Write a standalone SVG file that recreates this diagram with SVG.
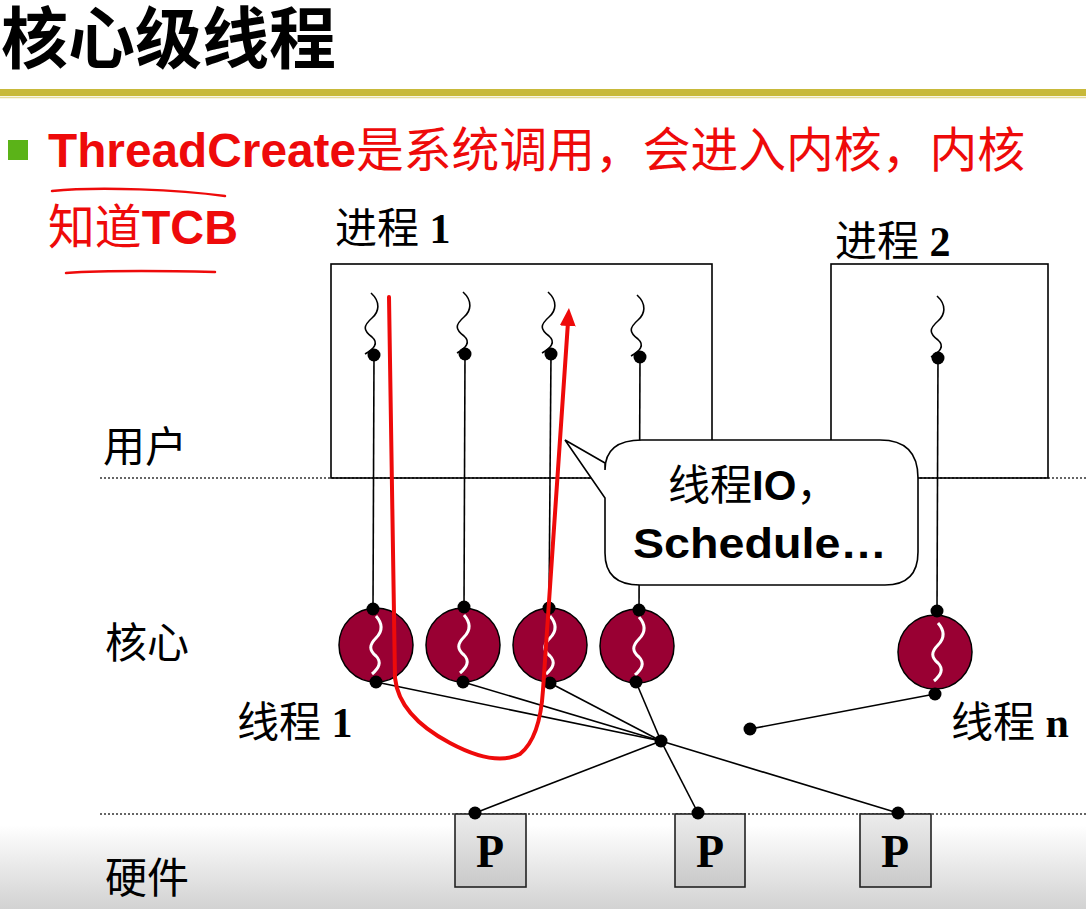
<svg xmlns="http://www.w3.org/2000/svg" width="1086" height="909" viewBox="0 0 1086 909">
<style>
.cjk{font-family:"Noto Sans CJK SC","Liberation Serif",serif;}
.lbl{font-family:"Liberation Serif","Noto Sans CJK SC",serif;font-size:42px;fill:#000;}
.lbl tspan.n{font-weight:bold;}
.box{fill:none;stroke:#000;stroke-width:1.6;}
.wire{stroke:#000;stroke-width:1.6;fill:none;}
.dot{fill:#000;}
.wave{fill:none;stroke:#000;stroke-width:1.6;}
.kcirc{fill:#990033;stroke:#000;stroke-width:1.5;}
.kwave{fill:none;stroke:#fff;stroke-width:3;}
.dotted{stroke:#333;stroke-width:1.6;stroke-dasharray:2 2;}
.red{stroke:#ee0a0a;fill:none;stroke-linecap:round;}
.pbox{fill:url(#pg);stroke:#222;stroke-width:1.6;}
.p{font-family:"Liberation Serif",serif;font-weight:bold;font-size:46px;text-anchor:middle;fill:#000;}
</style>
<defs>
<linearGradient id="bg" x1="0" y1="0" x2="0" y2="1">
<stop offset="0" stop-color="#ffffff"/><stop offset="1" stop-color="#d2d2d2"/>
</linearGradient>
<linearGradient id="pg" x1="0" y1="0" x2="0" y2="1">
<stop offset="0" stop-color="#ececec"/><stop offset="1" stop-color="#c9c9c9"/>
</linearGradient>
<path id="wv" d="M0,0 C10,9 8,19 1,25 C-8,33 -8,37 1,44 C8,50 3,56 -6,61"/>
<path id="kw" d="M0,0 C7,8 7,15 0,22 C-7,29 -7,34 0,40 C6,46 3,52 -4,58"/>
<marker id="arr" markerWidth="18" markerHeight="16" refX="4" refY="8" orient="auto" markerUnits="userSpaceOnUse">
<path d="M0,0 L18,8 L0,16 Z" fill="#ee0a0a"/>
</marker>
</defs>
<rect x="0" y="0" width="1086" height="909" fill="#fff"/>
<rect x="0" y="825" width="1086" height="84" fill="url(#bg)"/>
<g id="title">
<text x="1" y="63" class="cjk" font-size="67" font-weight="bold" fill="#000">核心级线程</text>
<rect x="0" y="89" width="1086" height="7" fill="#c8b93a"/>
<line x1="0" y1="97.5" x2="1086" y2="97.5" stroke="#e6dc9a" stroke-width="1.5"/>
</g>
<g id="bullet">
<rect x="8" y="140" width="20" height="20" fill="#5bb318"/>
<text x="48" y="167" font-size="48" fill="#ee0a0a" textLength="977" lengthAdjust="spacingAndGlyphs"><tspan font-family="Liberation Sans, sans-serif" font-weight="bold">ThreadCreate</tspan><tspan class="cjk">是系统调用，会进入内核，内核</tspan></text>
<text x="48" y="244" font-size="48" fill="#ee0a0a" textLength="190" lengthAdjust="spacingAndGlyphs"><tspan class="cjk">知道</tspan><tspan font-family="Liberation Sans, sans-serif" font-weight="bold">TCB</tspan></text>
<path class="red" stroke-width="2.5" d="M52,191 C100,186 180,190 225,196"/>
<path class="red" stroke-width="2.5" d="M66,273 C110,270 170,271 215,272"/>
</g>
<g id="layers">
<line class="dotted" x1="100" y1="478" x2="1086" y2="478"/>
<line class="dotted" x1="100" y1="814" x2="1086" y2="814"/>
<text class="lbl cjk" x="103" y="462" font-size="44">用户</text>
<text class="lbl cjk" x="105" y="658" font-size="44">核心</text>
<text class="lbl cjk" x="105" y="893" font-size="44">硬件</text>
</g>
<g id="process1">
<rect class="box" x="331" y="264" width="381" height="214" fill="#fff"/>
<text class="lbl" x="335" y="243" font-size="40"><tspan class="cjk">进程</tspan><tspan class="n"> 1</tspan></text>
</g>
<g id="process2">
<rect class="box" x="831" y="264" width="217" height="214" fill="#fff"/>
<text class="lbl" x="835" y="256" font-size="40"><tspan class="cjk">进程</tspan><tspan class="n"> 2</tspan></text>
</g>
<g id="connectors">
<line class="wire" x1="374" y1="355" x2="373" y2="609"/>
<line class="wire" x1="465" y1="354" x2="464" y2="607"/>
<line class="wire" x1="551" y1="354" x2="549" y2="608"/>
<line class="wire" x1="640" y1="357" x2="639" y2="610"/>
<line class="wire" x1="938" y1="358" x2="937" y2="611"/>
<line class="wire" x1="376" y1="682" x2="661" y2="741"/>
<line class="wire" x1="463" y1="682" x2="661" y2="741"/>
<line class="wire" x1="550" y1="683" x2="661" y2="741"/>
<line class="wire" x1="636" y1="682" x2="661" y2="741"/>
<line class="wire" x1="661" y1="741" x2="475" y2="813"/>
<line class="wire" x1="661" y1="741" x2="698" y2="813"/>
<line class="wire" x1="661" y1="741" x2="898" y2="813"/>
<line class="wire" x1="750" y1="729" x2="935" y2="694"/>
<circle class="dot" cx="661" cy="741" r="6.5"/>
<circle class="dot" cx="750" cy="729" r="6.5"/>
</g>
<g id="user-threads">
<use href="#wv" class="wave" x="371" y="293"/>
<use href="#wv" class="wave" x="463" y="292"/>
<use href="#wv" class="wave" x="548" y="292"/>
<use href="#wv" class="wave" x="637" y="295"/>
<use href="#wv" class="wave" x="937" y="296"/>
<circle class="dot" cx="374" cy="355" r="6.5"/>
<circle class="dot" cx="465" cy="354" r="6.5"/>
<circle class="dot" cx="551" cy="354" r="6.5"/>
<circle class="dot" cx="640" cy="357" r="6.5"/>
<circle class="dot" cx="938" cy="358" r="6.5"/>
</g>
<g id="kernel-threads">
<circle class="kcirc" cx="376" cy="645" r="37"/>
<circle class="kcirc" cx="463" cy="645" r="37"/>
<circle class="kcirc" cx="550" cy="645" r="37"/>
<circle class="kcirc" cx="637" cy="646" r="37"/>
<circle class="kcirc" cx="935" cy="652" r="37"/>
<use href="#kw" class="kwave" x="376" y="616"/>
<use href="#kw" class="kwave" x="464" y="615"/>
<use href="#kw" class="kwave" x="550" y="616"/>
<use href="#kw" class="kwave" x="639" y="617"/>
<use href="#kw" class="kwave" x="938" y="623"/>
<circle class="dot" cx="373" cy="609" r="6.5"/>
<circle class="dot" cx="464" cy="607" r="6.5"/>
<circle class="dot" cx="549" cy="608" r="6.5"/>
<circle class="dot" cx="639" cy="610" r="6.5"/>
<circle class="dot" cx="937" cy="611" r="6.5"/>
<circle class="dot" cx="376" cy="682" r="6.5"/>
<circle class="dot" cx="463" cy="682" r="6.5"/>
<circle class="dot" cx="550" cy="683" r="6.5"/>
<circle class="dot" cx="636" cy="682" r="6.5"/>
<circle class="dot" cx="935" cy="694" r="6.5"/>
<text class="lbl" x="237" y="737" font-size="36"><tspan class="cjk">线程</tspan><tspan class="n"> 1</tspan></text>
<text class="lbl" x="951" y="737" font-size="36"><tspan class="cjk">线程</tspan><tspan class="n"> n</tspan></text>
</g>
<g id="processors">
<rect class="pbox" x="455" y="814" width="71" height="73"/>
<rect class="pbox" x="675" y="814" width="70" height="73"/>
<rect class="pbox" x="860" y="814" width="71" height="73"/>
<text class="p" x="490" y="867">P</text>
<text class="p" x="710" y="867">P</text>
<text class="p" x="895" y="867">P</text>
<circle class="dot" cx="475" cy="813" r="6.5"/>
<circle class="dot" cx="698" cy="813" r="6.5"/>
<circle class="dot" cx="898" cy="813" r="6.5"/>
</g>
<g id="callout">
<path d="M605,463 L565,440 L605,498 L605,553 Q605,585 640,585 L885,585 Q918,585 918,552 L918,478 Q918,440 880,440 L642,440 Q605,440 605,470 Z" fill="#fff" stroke="#000" stroke-width="1.6"/>
<text x="668" y="500" font-size="42" fill="#000"><tspan class="cjk">线程</tspan><tspan font-family="Liberation Sans, sans-serif" font-weight="bold">IO</tspan><tspan class="cjk">，</tspan></text>
<text x="633" y="558" font-family="Liberation Sans, sans-serif" font-weight="bold" font-size="42" fill="#000" textLength="254" lengthAdjust="spacingAndGlyphs">Schedule…</text>
</g>
<g id="red-path">
<path class="red" stroke-width="4" marker-end="url(#arr)" d="M389,297 L395,678 Q399,716 450,743 Q495,767 520,754 Q540,738 543,690 L568,322"/>
</g>
</svg>
